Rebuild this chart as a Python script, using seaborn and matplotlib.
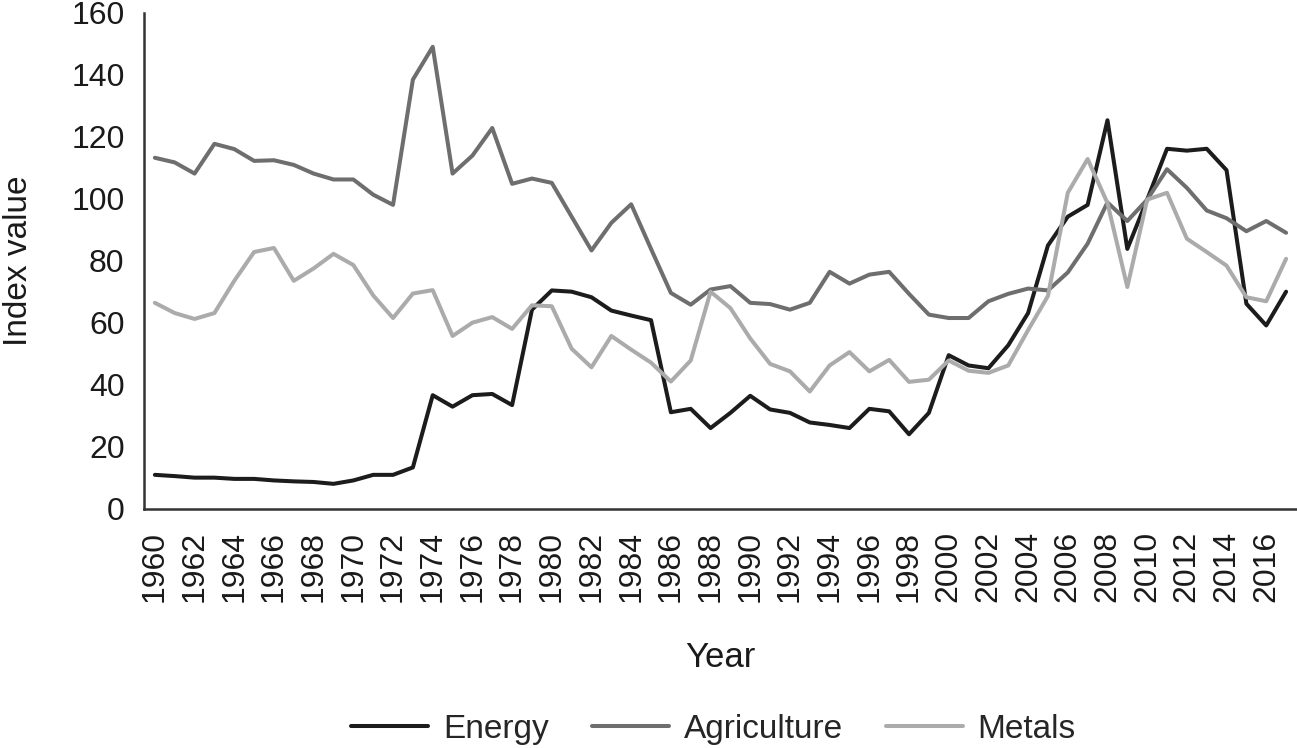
import matplotlib
matplotlib.use("Agg")
import matplotlib.pyplot as plt
import seaborn as sns
import pandas as pd

years = list(range(1960, 2018))

energy = [10.9, 10.5, 10.0, 10.0, 9.6, 9.6, 9.1, 8.8, 8.6, 8.0,
          9.1, 10.9, 10.9, 13.3, 36.6, 32.9, 36.6, 37.0, 33.4, 64.2,
          70.4, 70.0, 68.2, 63.9, 62.3, 60.8, 31.1, 32.2, 26.0, 30.9,
          36.4, 32.0, 30.9, 27.8, 27.0, 26.0, 32.2, 31.4, 24.0, 30.9,
          49.5, 46.2, 45.3, 52.7, 63.1, 84.9, 94.2, 98.0, 125.3, 83.8,
          99.7, 116.1, 115.5, 116.1, 109.2, 66.1, 59.1, 70.0]

agriculture = [113.2, 111.7, 108.1, 117.7, 116.0, 112.2, 112.4, 110.9, 108.1, 106.2,
               106.2, 101.3, 98.0, 138.4, 149.0, 108.1, 113.9, 122.8, 104.8, 106.5,
               105.1, 94.2, 83.3, 92.2, 98.2, 83.8, 69.6, 65.8, 70.7, 71.8,
               66.4, 66.0, 64.2, 66.4, 76.4, 72.6, 75.5, 76.4, 69.3, 62.6,
               61.5, 61.5, 66.9, 69.3, 71.0, 70.4, 76.2, 85.5, 98.8, 92.8,
               99.7, 109.5, 103.5, 96.2, 93.7, 89.5, 92.8, 89.0]

metals = [66.4, 63.1, 61.2, 63.1, 73.5, 82.8, 84.1, 73.5, 77.5, 82.2,
          78.6, 68.8, 61.5, 69.4, 70.5, 55.7, 60.0, 61.8, 58.0, 65.6,
          65.3, 51.6, 45.6, 55.7, 51.3, 47.1, 41.0, 47.8, 70.0, 64.7,
          54.9, 46.7, 44.3, 37.8, 46.2, 50.5, 44.3, 48.0, 40.9, 41.6,
          47.8, 44.5, 43.8, 46.2, 57.6, 68.6, 101.9, 112.8, 98.6, 71.5,
          99.7, 101.9, 87.1, 82.8, 78.4, 68.2, 66.9, 80.6]

series_names = ["Energy", "Agriculture", "Metals"]
colors = ["#1c1c1c", "#6e6e6e", "#ababab"]

df = pd.DataFrame({"Year": years, "Energy": energy,
                   "Agriculture": agriculture, "Metals": metals})
long_df = df.melt(id_vars="Year", var_name="Series", value_name="Index value")

sns.set_style("white")
plt.rcParams["font.family"] = ["Liberation Sans", "DejaVu Sans"]

fig = plt.figure(figsize=(12.97, 7.48), dpi=100)
# axes box placed to match the reference frame (y-axis at x~144, x-axis at y~509)
ax = fig.add_axes([0.111, 0.320, 0.889, 0.663])

sns.lineplot(data=long_df, x="Year", y="Index value", hue="Series",
             hue_order=series_names, palette=colors, linewidth=2.9, ax=ax)

ax.set_xlim(1959.45, 2017.55)
ax.set_ylim(0, 160)
ax.set_xticks(list(range(1960, 2018, 2)))
ax.set_xticklabels([str(y) for y in range(1960, 2018, 2)], rotation=90)
ax.set_yticks(range(0, 161, 20))
ax.tick_params(axis="both", labelsize=23, direction="out", length=9,
               width=1.5, color="#333333", labelcolor="#1a1a1a", pad=5)
ax.tick_params(axis="x", pad=7)

for side in ["top", "right"]:
    ax.spines[side].set_visible(False)
for side in ["left", "bottom"]:
    ax.spines[side].set_color("#333333")
    ax.spines[side].set_linewidth(1.8)

ax.set_xlabel("Year", fontsize=25, labelpad=28, color="#1a1a1a")
ax.set_ylabel("Index value", fontsize=24, labelpad=27, color="#1a1a1a")

handles, labels = ax.get_legend_handles_labels()
ax.legend(handles, labels, loc="center", bbox_to_anchor=(0.494, -0.445),
          ncol=3, frameon=False, fontsize=24, handlelength=2.3,
          handletextpad=0.45, columnspacing=1.3)

fig.savefig("out.png", dpi=100)
